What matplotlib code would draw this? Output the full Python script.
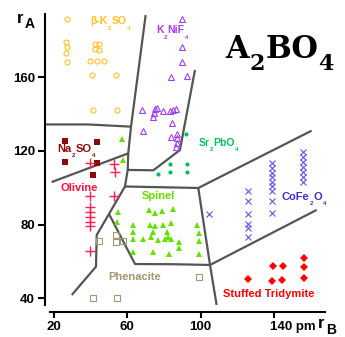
import matplotlib
matplotlib.use("Agg")
import matplotlib.pyplot as plt
from matplotlib.transforms import ScaledTranslation

# ---------------- data (rB, rA in pm) ----------------
k2so4_rb = [26.9, 26.5, 26.9, 26.5, 26.9, 42.4, 44.7, 42.4, 44.7, 39.6, 43.3, 47.4, 40.6, 53.7, 41.4, 54.2]
k2so4_ra = [191.8, 179.2, 176.5, 173.4, 168.3, 178.3, 178.3, 175.6, 175.0, 168.8, 168.8, 168.8, 161.1, 161.1, 142.1, 142.1]

k2nif4_rb = [89.7, 89.7, 89.7, 83.6, 92.6, 67.8, 75.1, 76.4, 74.7, 74.2, 79.3, 83.3, 85.1, 86.4,
             84.2, 68.7, 83.7, 87.3, 87.3, 87.3, 86.6]
k2nif4_ra = [191.5, 176.3, 168.3, 160.4, 160.7, 142.2, 142.6, 143.1, 140.8, 138.3, 141.7, 141.7, 142.2, 142.6,
             135.0, 131.0, 127.7, 129.2, 126.9, 124.5, 122.0]

sr2pbo4_rb = [92.0, 83.3, 92.4, 76.9, 83.3, 92.4]
sr2pbo4_ra = [129.2, 112.9, 112.9, 107.5, 108.4, 108.4]

na2so4_rb = [26.0, 43.3, 26.0, 43.7, 41.1]
na2so4_ra = [125.6, 124.9, 114.0, 113.6, 106.9]

olivine_rb = [39.4, 53.0, 53.3, 39.4, 53.0, 39.4, 39.4, 39.4, 39.4, 39.4, 39.4]
olivine_ra = [113.3, 112.9, 108.7, 95.5, 95.5, 89.7, 87.0, 84.3, 81.6, 79.1, 65.7]

spinel_rb = [57.1, 57.6, 54.9, 54.4, 72.0, 75.3, 78.9, 84.7, 62.9, 62.9, 72.5, 74.9, 79.3, 83.7, 73.8, 81.8,
             62.9, 68.4, 73.1, 76.7, 80.4, 82.2, 83.7, 88.0, 88.0, 98.0, 98.9, 98.9, 62.9, 73.8, 82.9, 98.9]
spinel_ra = [126.5, 115.1, 87.0, 81.6, 87.9, 86.5, 87.6, 88.3, 79.8, 76.2, 79.8, 79.3, 79.8, 80.7, 76.2, 76.2,
             72.0, 72.0, 73.4, 71.7, 72.0, 73.4, 72.0, 70.7, 67.1, 79.8, 75.3, 71.3, 65.3, 65.3, 64.1, 64.1]

phenacite_rb = [44.7, 54.0, 54.0, 57.5, 41.4, 54.5, 99.3]
phenacite_ra = [71.1, 74.6, 70.4, 71.1, 40.3, 40.3, 51.4]

cofe2o4_rb = [125.8] * 6 + [139.1] * 9 + [155.8] * 7 + [104.3]
cofe2o4_ra = [98.3, 92.6, 86.0, 80.6, 78.2, 73.4,
              113.2, 110.8, 108.3, 105.9, 103.4, 101.0, 98.3, 92.8, 86.3,
              119.4, 116.7, 114.0, 111.3, 108.6, 105.9, 103.1,
              86.0]

tridymite_rb = [126.0, 138.8, 144.2, 139.6, 145.1, 156.4, 156.4, 156.4]
tridymite_ra = [50.3, 49.4, 49.9, 57.7, 57.7, 62.0, 57.2, 50.9]

# field boundaries (rB, rA)
boundaries = [
    ([70.0, 62.0, 60.5, 60.2, 58.7, 50.0, 43.3, 42.9, 29.7],
     [193.8, 133.2, 118.7, 109.7, 100.7, 85.8, 74.4, 57.2, 41.8]),
    ([15.1, 38.5, 62.0], [134.4, 134.4, 133.2]),
    ([18.7, 60.5], [103.1, 118.7]),
    ([60.2, 74.2, 88.7, 96.9], [109.7, 109.5, 120.5, 164.0]),
    ([58.7, 98.7, 160.5], [100.7, 99.9, 131.0]),
    ([98.7, 105.1, 108.7], [99.9, 58.1, 36.4]),
    ([50.0, 64.2, 85.1, 105.1, 163.3], [85.8, 58.6, 58.5, 58.1, 88.0]),
]

xticks = [20, 60, 100, 140]
xticklabels = ["20", "60", "100", "140 pm"]
yticks = [40, 80, 120, 160]
yticklabels = ["40", "80", "120", "160"]

W, H = 345, 337
fig = plt.figure(figsize=(W / 100, H / 100), dpi=100)
ax = fig.add_axes([45 / W, 1 - 305 / H, (330 - 45) / W, (305 - 14) / H])
ax.set_xlim(15.09, 170.55)
ax.set_ylim(36.36, 194.37)

SANS = "Liberation Sans"
LC = "#555555"
for bx, by in boundaries:
    ax.plot(bx, by, color=LC, lw=1.6, solid_capstyle="butt", zorder=2)

ax.plot(k2so4_rb, k2so4_ra, "o", ms=3.6, mfc="none", mec="#FFC020", mew=0.8, zorder=3)
ax.plot(k2nif4_rb, k2nif4_ra, "^", ms=4.5, mfc="none", mec="#A040F0", mew=0.8, zorder=3)
ax.plot(sr2pbo4_rb, sr2pbo4_ra, "o", ms=3.0, mfc="#00C060", mec="#00C060", mew=0, zorder=3)
ax.plot(na2so4_rb, na2so4_ra, "s", ms=3.8, mfc="#8B0A0A", mec="#8B0A0A", mew=0, zorder=3)
ax.plot(olivine_rb, olivine_ra, "+", ms=6.5, mec="#FF2050", mew=1.0, zorder=3)
ax.plot(spinel_rb, spinel_ra, "^", ms=4.6, mfc="#66E000", mec="#66E000", mew=0, zorder=3)
ax.plot(phenacite_rb, phenacite_ra, "s", ms=3.8, mfc="none", mec="#A09870", mew=0.8, zorder=3)
ax.plot(cofe2o4_rb, cofe2o4_ra, "x", ms=4.5, mec="#6A50E0", mew=0.8, zorder=3)
ax.plot(tridymite_rb, tridymite_ra, "D", ms=3.6, mfc="#FF0000", mec="#FF0000", mew=0, zorder=3)

# axes styling
for s in ("top", "right"):
    ax.spines[s].set_visible(False)
ax.spines["left"].set_linewidth(1.5)
ax.spines["bottom"].set_linewidth(1.5)
ax.spines["bottom"].set_position(("outward", 5.0))
ax.spines["bottom"].set_bounds(17.8, 167.8)
ax.set_xticks(xticks)
ax.set_xticklabels(xticklabels)
ax.set_yticks(yticks)
ax.set_yticklabels(yticklabels)
ax.tick_params(axis="y", direction="out", length=5.2, width=1.5, pad=2)
ax.tick_params(axis="x", direction="out", length=4.3, width=1.5, pad=2.5)
for lab in ax.get_xticklabels() + ax.get_yticklabels():
    lab.set_fontfamily(SANS)
    lab.set_fontweight("bold")
    lab.set_fontsize(9.5)
last = ax.get_xticklabels()[-1]
last.set_ha("left")
last.set_transform(last.get_transform() + ScaledTranslation(-4 / 100, 0, fig.dpi_scale_trans))
ax.patch.set_alpha(0)

renderer = fig.canvas.get_renderer()


def rich(parts, x_px, base_px, color, size, subsize, drop_px, family=SANS, weight="bold", gap=0.4):
    x = x_px
    for s, sub in parts:
        fs = subsize if sub else size
        y = base_px + (drop_px if sub else 0)
        t = fig.text(x / W, 1 - y / H, s, fontsize=fs, color=color, family=family,
                     fontweight=weight, ha="left", va="baseline")
        x += t.get_window_extent(renderer).width + gap


def rich_data(parts, xd, yd, color, size=7.5, subsize=4.5, drop_px=5.5, **kw):
    dx, dy = ax.transData.transform((xd, yd))
    rich(parts, dx, H - dy, color, size, subsize, drop_px, **kw)


rich_data([("β-K", 0), ("2", 1), ("SO", 0), ("4", 1)], 39.6, 188.9, "#FFC020")
rich_data([("K", 0), ("2", 1), ("NiF", 0), ("4", 1)], 75.6, 183.9, "#A040F0")
rich_data([("Sr", 0), ("2", 1), ("PbO", 0), ("4", 1)], 98.7, 122.9, "#00C060")
rich_data([("Na", 0), ("2", 1), ("SO", 0), ("4", 1)], 21.5, 119.6, "#8B0A0A", size=8)
rich_data([("Olivine", 0)], 23.3, 98.3, "#FF1040", size=8)
rich_data([("Spinel", 0)], 67.8, 93.9, "#66E000", size=8)
rich_data([("Phenacite", 0)], 49.6, 49.9, "#A09870", size=8)
rich_data([("Stuffed Tridymite", 0)], 112.3, 40.9, "#FF0000", size=8)
rich_data([("CoFe", 0), ("2", 1), ("O", 0), ("4", 1)], 144.2, 93.4, "#4828D8", size=8)

# title
rich([("A", 0), ("2", 1), ("BO", 0), ("4", 1)], 225, 58.3, "black", 22, 16, 11.5,
     family="DejaVu Serif", weight="bold", gap=0.5)

# axis labels
rich([("r", 0), ("A", 1)], 16.5, 23, "black", 12, 10, 5.3, gap=1.5)
rich([("r", 0), ("B", 1)], 318, 328.5, "black", 12, 10, 5.5, gap=1.5)

fig.savefig("out.png", dpi=100)
